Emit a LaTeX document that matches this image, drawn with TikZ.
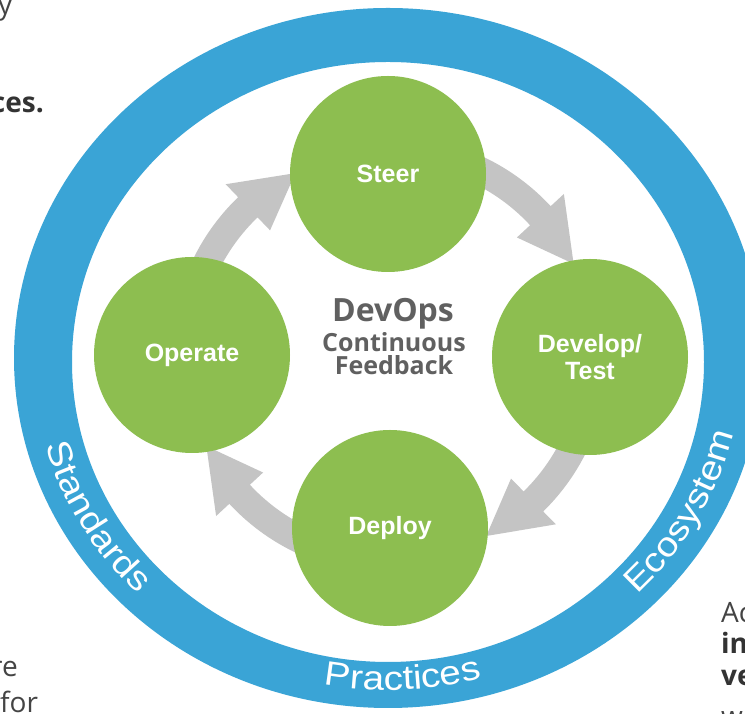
\documentclass[tikz,border=0pt]{standalone}
\usepackage{fontspec}
\usetikzlibrary{decorations.text}
\newfontfamily\lblfont{Liberation Sans}
\newfontfamily\ringfont[FakeStretch=1.14]{Liberation Sans}
\newfontfamily\osfont{Open Sans}
\definecolor{ringblue}{RGB}{58,164,214}
\definecolor{leafgreen}{RGB}{141,190,80}
\definecolor{arrowgrey}{RGB}{196,196,196}
\definecolor{titlegrey}{RGB}{96,96,96}
\definecolor{pagetext}{RGB}{68,68,68}
\definecolor{pagebold}{RGB}{51,51,51}
\newcommand\cyclearrow[2]{%
  \pgfmathsetmacro\arrbase{#2+16.4}%
  \fill[arrowgrey] (#1:219) arc[start angle=#1, end angle=\arrbase, radius=219]
    -- (\arrbase:237) -- (#2:205) -- (\arrbase:173) -- (\arrbase:191)
    arc[start angle=\arrbase, end angle=#1, radius=191] -- cycle;}
\tikzset{
  stage/.style={circle, fill=leafgreen, minimum size=196pt, inner sep=0pt,
    text=white, align=center, font=\lblfont\bfseries\fontsize{25}{27}\selectfont},
  ringlabel/.style={decorate, decoration={text along path, text align=center,
    text color=white, text={|\ringfont\fontsize{34}{34}\selectfont|#1}}},
  pagefrag/.style={inner sep=0pt, text=pagetext, font=\osfont\fontsize{28}{28}\selectfont},
  pagefragbold/.style={inner sep=0pt, text=pagebold, font=\osfont\bfseries\fontsize{28}{28}\selectfont},
}
\begin{document}
\begin{tikzpicture}[x=1pt,y=1pt]
\useasboundingbox (0,0) rectangle (745,714);
\clip (0,0) rectangle (745,714);
\fill[white] (0,0) rectangle (745,714);
% blue ring
\fill[ringblue, even odd rule] (388,356) ellipse [x radius=374, y radius=350]
  (388,352) ellipse [x radius=316, y radius=300];
% cycle arrows
\coordinate (cyc) at (390,359);
\begin{scope}[shift={(cyc)}]
  \cyclearrow{70}{26.4}
  \cyclearrow{-20}{-62}
  \cyclearrow{-110}{-153.6}
  \cyclearrow{160}{117.5}
\end{scope}
% stages
\node[stage] (steer) at (388,540) {Steer};
\node[stage] (develop) at (590,357) {Develop/\\Test};
\node[stage] (deploy) at (390,186) {Deploy};
\node[stage] (operate) at (192,359) {Operate};
% centre title
\node[anchor=base, inner sep=0pt, text=titlegrey, font=\osfont\bfseries\fontsize{32}{32}\selectfont] (devops) at (393,392) {DevOps};
\node[anchor=base, inner sep=0pt, text=titlegrey, font=\osfont\bfseries\fontsize{25}{25}\selectfont] (cont) at (394,362.5) {Continuous};
\node[anchor=base, inner sep=0pt, text=titlegrey, font=\osfont\bfseries\fontsize{25}{25}\selectfont] (feed) at (394,339) {Feedback};
% ring labels
\path[ringlabel=Standards] (388,356) ++(180:355 and 332) arc[start angle=180, end angle=240, x radius=355, y radius=332];
\path[ringlabel=Practices] (388,356) ++(242.5:355 and 332) arc[start angle=242.5, end angle=302.5, x radius=355, y radius=332];
\path[ringlabel=Ecosystem] (388,356) ++(301:355 and 332) arc[start angle=301, end angle=361, x radius=355, y radius=332];
% page text fragments
\node[pagefrag, anchor=base west] (fy) at (-2,699) {y};
\node[pagefragbold, anchor=base east] (fces) at (44,601) {ces.};
\node[pagefrag, anchor=base east] (fre) at (18,37) {re};
\node[pagefrag, anchor=base west] (ffor) at (0,1) {for};
\node[pagefrag, anchor=base west] (fac) at (721,91) {Ac};
\node[pagefragbold, anchor=base west] (fin) at (721,60) {in};
\node[pagefragbold, anchor=base west] (fve) at (721,28) {ve};
\node[pagefrag, anchor=base west] (fw) at (721,-13) {w};
\end{tikzpicture}
\end{document}
